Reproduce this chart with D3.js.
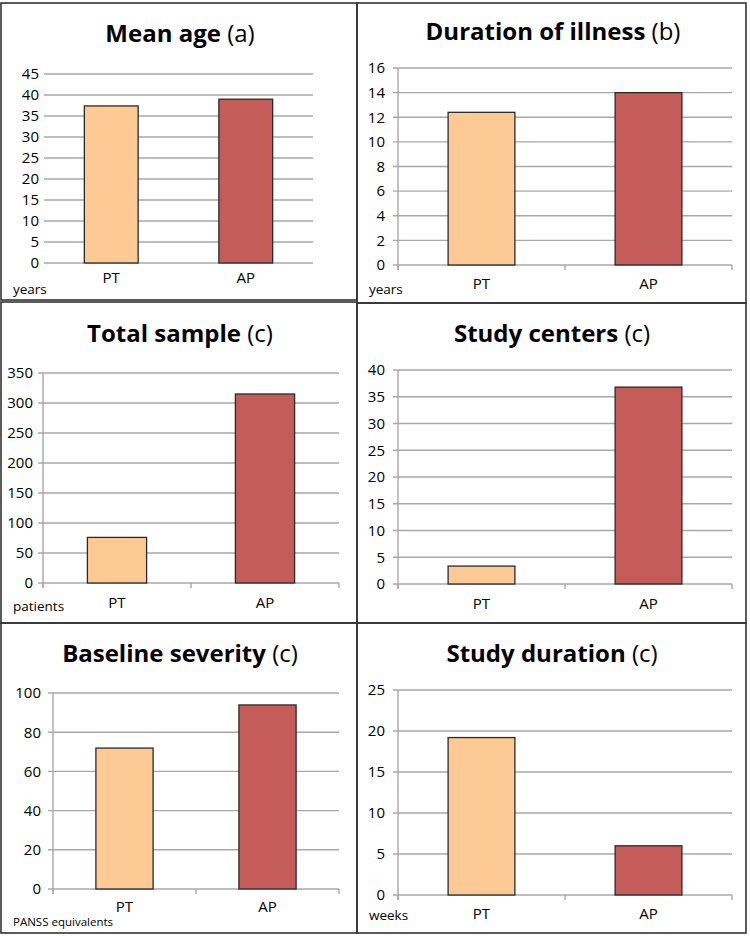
<!DOCTYPE html>
<html>
<head>
<meta charset="utf-8">
<script src="https://cdn.jsdelivr.net/npm/d3@7"></script>
<style>
  html, body { margin: 0; padding: 0; background: #fff; }
  svg { display: block; }
  text { font-family: "Open Sans", Lato, sans-serif; fill: #000; }
</style>
</head>
<body>
<svg id="chart" width="750" height="936"></svg>
<script>
// ---- data ----
const categories = ["PT", "AP"];
const meanAge = [37.4, 39.0];
const illnessDuration = [12.4, 14.0];
const totalSample = [76, 315];
const studyCenters = [3.35, 36.8];
const baselineSeverity = [71.9, 93.9];
const studyDuration = [19.2, 6.0];

const ticksMeanAge = [0, 5, 10, 15, 20, 25, 30, 35, 40, 45];
const ticksIllness = [0, 2, 4, 6, 8, 10, 12, 14, 16];
const ticksSample = [0, 50, 100, 150, 200, 250, 300, 350];
const ticksCenters = [0, 5, 10, 15, 20, 25, 30, 35, 40];
const ticksSeverity = [0, 20, 40, 60, 80, 100];
const ticksDuration = [0, 5, 10, 15, 20, 25];

const titlesBold = ["Mean age", "Duration of illness", "Total sample", "Study centers", "Baseline severity", "Study duration"];
const titlesTag = ["(a)", "(b)", "(c)", "(c)", "(c)", "(c)"];
const unitLabels = ["years", "years", "patients", "", "PANSS equivalents", "weeks"];

const barColors = ["#FDCA96", "#C45C5A"];

// ---- layout (positions only) ----
const panels = [
  { values: meanAge, ticks: ticksMeanAge, box: [1, 3, 357, 300], x0: 44, x1: 313, yTop: 74, yBot: 263, axis: false, tickX: 39, titleX: 180, titleY: 42, catY: 283, unitX: 13, unitY: 294, unitSize: 13.5 },
  { values: illnessDuration, ticks: ticksIllness, box: [357, 3, 746, 303], x0: 398, x1: 732, yTop: 68, yBot: 265, axis: true, tickX: 385, titleX: 553, titleY: 40, catY: 289, unitX: 369, unitY: 294, unitSize: 13.5 },
  { values: totalSample, ticks: ticksSample, box: [1, 302, 357, 623], x0: 43, x1: 339, yTop: 373, yBot: 583, axis: true, tickX: 33, titleX: 180, titleY: 342, catY: 608, unitX: 13, unitY: 611, unitSize: 13.5 },
  { values: studyCenters, ticks: ticksCenters, box: [357, 303, 746, 623], x0: 398, x1: 732, yTop: 370, yBot: 584, axis: true, tickX: 385, titleX: 552, titleY: 342, catY: 609, unitX: 369, unitY: 611, unitSize: 13.5 },
  { values: baselineSeverity, ticks: ticksSeverity, box: [1, 623, 357, 933], x0: 53, x1: 339, yTop: 693, yBot: 889, axis: true, tickX: 41, titleX: 180, titleY: 662, catY: 912, unitX: 13, unitY: 926, unitSize: 11.5 },
  { values: studyDuration, ticks: ticksDuration, box: [357, 623, 746, 933], x0: 398, x1: 732, yTop: 690, yBot: 895, axis: true, tickX: 385, titleX: 552, titleY: 662, catY: 919, unitX: 369, unitY: 920, unitSize: 13.5 }
];

const svg = d3.select("#chart");
const gridColor = "#A8A8A8";

panels.forEach((p, i) => {
  const g = svg.append("g");
  const [bx0, by0, bx1, by1] = p.box;
  g.append("rect")
    .attr("x", bx0).attr("y", by0).attr("width", bx1 - bx0).attr("height", by1 - by0)
    .attr("fill", "none").attr("stroke", "#333").attr("stroke-width", 1.6);

  const ymax = p.ticks[p.ticks.length - 1];
  const y = d3.scaleLinear().domain([0, ymax]).range([p.yBot, p.yTop]);
  const x = d3.scaleBand().domain(categories).range([p.x0, p.x1]).paddingInner(0.6).paddingOuter(0.3);

  // gridlines
  const gridStart = p.axis ? p.x0 - 5 : p.x0;
  g.selectAll("line.grid").data(p.ticks).join("line")
    .attr("x1", gridStart).attr("x2", p.x1)
    .attr("y1", d => y(d)).attr("y2", d => y(d))
    .attr("stroke", gridColor).attr("stroke-width", 1.4);

  // y tick labels via axis
  const yAxis = d3.axisLeft(y).tickValues(p.ticks).tickSize(0).tickPadding(0).tickFormat(d3.format("d"));
  const ya = g.append("g").attr("transform", `translate(${p.tickX},0)`).call(yAxis);
  ya.select(".domain").remove();
  ya.selectAll("text").attr("font-size", 15).attr("font-family", "'Open Sans', Lato, sans-serif").attr("fill", "#111");

  if (p.axis) {
    g.append("line").attr("x1", p.x0).attr("x2", p.x0).attr("y1", p.yTop).attr("y2", p.yBot + 5)
      .attr("stroke", gridColor).attr("stroke-width", 1.4);
    const bounds = [p.x0, (p.x0 + p.x1) / 2, p.x1];
    g.selectAll("line.xt").data(bounds).join("line")
      .attr("x1", d => d).attr("x2", d => d).attr("y1", p.yBot).attr("y2", p.yBot + 5)
      .attr("stroke", gridColor).attr("stroke-width", 1.4);
  }

  // bars
  g.selectAll("rect.bar").data(categories).join("rect")
    .attr("x", d => x(d)).attr("width", x.bandwidth())
    .attr("y", (d, k) => y(p.values[k])).attr("height", (d, k) => y(0) - y(p.values[k]))
    .attr("fill", (d, k) => barColors[k]).attr("stroke", "#2a2a2a").attr("stroke-width", 1.3);

  // category labels
  g.selectAll("text.cat").data(categories).join("text")
    .attr("x", d => x(d) + x.bandwidth() / 2).attr("y", p.catY)
    .attr("text-anchor", "middle").attr("font-size", 15).text(d => d);

  // unit label
  if (unitLabels[i]) {
    g.append("text").attr("x", p.unitX).attr("y", p.unitY)
      .attr("font-size", p.unitSize).text(unitLabels[i]);
  }

  // title
  const t = g.append("text").attr("x", p.titleX).attr("y", p.titleY)
    .attr("text-anchor", "middle").attr("font-size", 24);
  t.append("tspan").attr("font-weight", "bold").text(titlesBold[i] + " ");
  t.append("tspan").attr("font-weight", "normal").text(titlesTag[i]);
});
</script>
</body>
</html>
